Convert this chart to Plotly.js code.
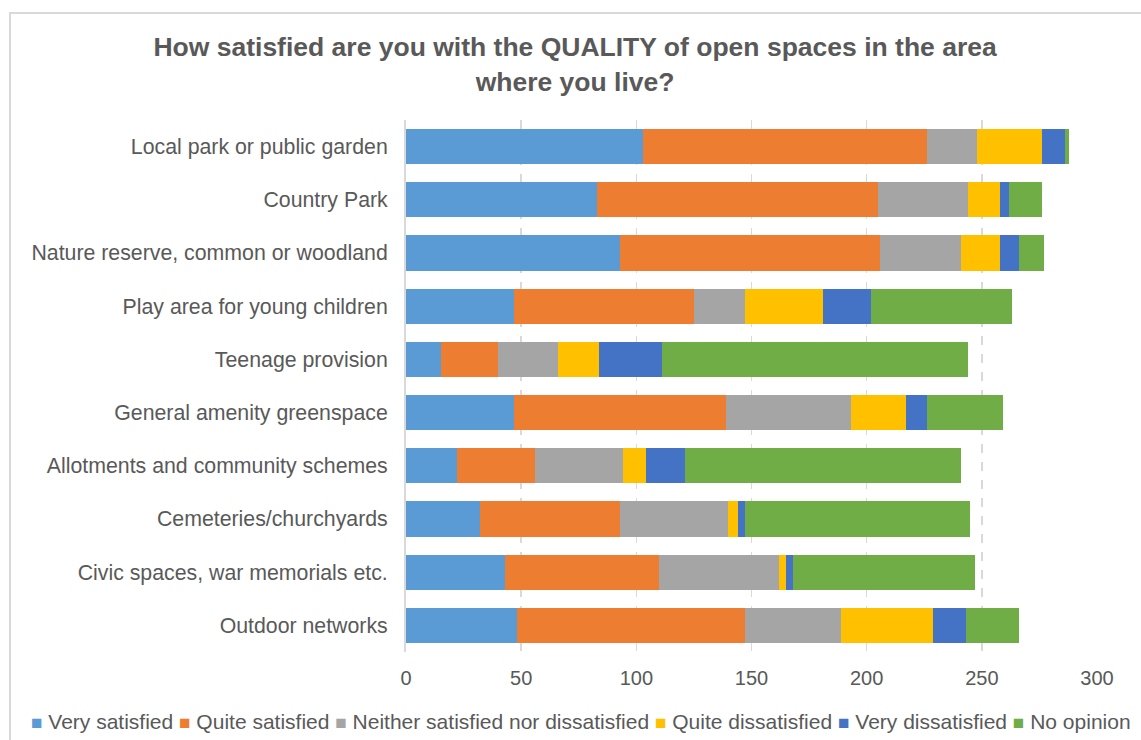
<!DOCTYPE html>
<html>
<head>
<meta charset="utf-8">
<script src="https://cdn.plot.ly/plotly-3.0.1.min.js"></script>
<style>
  html, body { margin: 0; padding: 0; background: #ffffff; overflow: hidden; }
  #chart { position: absolute; left: 0; top: 0; width: 1141px; height: 740px; }
  #frame { position: absolute; left: 9px; top: 12px; width: 1200px; height: 800px;
           border-left: 2px solid #d9d9d9; border-top: 2px solid #d9d9d9; pointer-events: none; }
</style>
</head>
<body>
<div id="chart"></div>
<div id="frame"></div>
<script>
const categories = [
  "Local park or public garden",
  "Country Park",
  "Nature reserve, common or woodland",
  "Play area for young children",
  "Teenage provision",
  "General amenity greenspace",
  "Allotments and community schemes",
  "Cemeteries/churchyards",
  "Civic spaces, war memorials etc.",
  "Outdoor networks"
];
const seriesNames = [
  "Very satisfied",
  "Quite satisfied",
  "Neither satisfied nor dissatisfied",
  "Quite dissatisfied",
  "Very dissatisfied",
  "No opinion"
];
const verySatisfied      = [103, 83, 93, 47, 15, 47, 22, 32, 43, 48];
const quiteSatisfied     = [123, 122, 113, 78, 25, 92, 34, 61, 67, 99];
const neither            = [22, 39, 35, 22, 26, 54, 38, 47, 52, 42];
const quiteDissatisfied  = [28, 14, 17, 34, 18, 24, 10, 4, 3, 40];
const veryDissatisfied   = [10, 4, 8, 21, 27, 9, 17, 3, 3, 14];
const noOpinion          = [2, 14, 11, 61, 133, 33, 120, 98, 79, 23];
const xTicks = [0, 50, 100, 150, 200, 250, 300];

const seriesValues = [verySatisfied, quiteSatisfied, neither, quiteDissatisfied, veryDissatisfied, noOpinion];
const colors = ["#5B9BD5", "#ED7D31", "#A5A5A5", "#FFC000", "#4472C4", "#70AD47"];
const font = "Liberation Sans, Arial, sans-serif";
const textColor = "#595959";

const traces = seriesValues.map((vals, i) => ({
  type: "bar",
  orientation: "h",
  name: seriesNames[i],
  y: categories,
  x: vals,
  marker: { color: colors[i], line: { width: 0 } },
  hoverinfo: "x+name"
}));

// Legend drawn as one line of text (the native legend cannot fit one row at this font size)
const legendText = seriesNames.map((n, i) =>
  '<span style="color:' + colors[i] + ';font-size:19px">\u25A0</span> ' + n
).join(' ');

const layout = {
  width: 1141,
  height: 740,
  paper_bgcolor: "#ffffff",
  plot_bgcolor: "#ffffff",
  barmode: "stack",
  bargap: 0.34,
  margin: { l: 406, r: 44, t: 120, b: 88, pad: 0 },
  font: { family: font, color: textColor, size: 20 },
  title: {
    text: "<b>How satisfied are you with the QUALITY of open spaces in the area<br>where you live?</b>",
    font: { family: font, size: 26.5, color: textColor },
    x: 0.504, xanchor: "center", xref: "container",
    y: 0.924, yanchor: "middle", yref: "container"
  },
  xaxis: {
    range: [0, 300],
    tickvals: xTicks,
    ticktext: xTicks.map(String),
    showgrid: true,
    gridcolor: "#d9d9d9",
    griddash: "dash",
    gridwidth: 1.5,
    zeroline: false,
    showline: false,
    ticks: "",
    tickfont: { family: font, size: 20, color: textColor },
    ticklabelstandoff: 12,
    fixedrange: true
  },
  yaxis: {
    autorange: "reversed",
    showgrid: false,
    zeroline: false,
    showline: true,
    linecolor: "#d9d9d9",
    linewidth: 2,
    ticks: "",
    tickfont: { family: font, size: 21.3, color: textColor },
    ticklabelstandoff: 12,
    fixedrange: true
  },
  showlegend: false,
  annotations: [{
    text: legendText,
    xref: "paper", yref: "paper",
    x: 0.2533, y: -0.1297,
    xanchor: "center", yanchor: "middle",
    showarrow: false,
    font: { family: font, size: 21, color: textColor }
  }]
};

Plotly.newPlot("chart", traces, layout, { displayModeBar: false, staticPlot: true });
</script>
</body>
</html>
